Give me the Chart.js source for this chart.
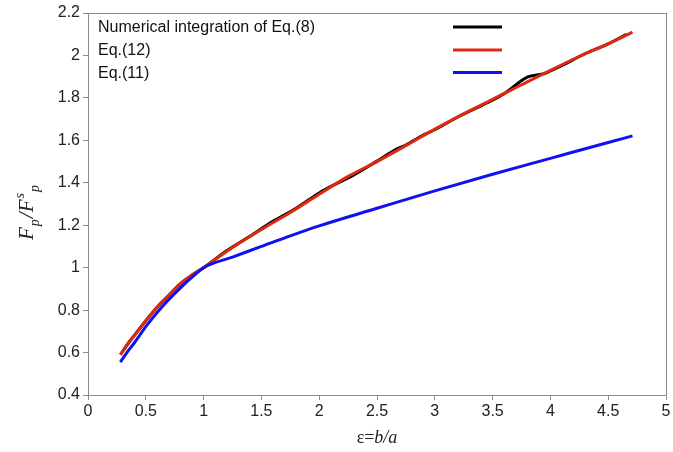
<!DOCTYPE html>
<html>
<head>
<meta charset="utf-8">
<script src="https://cdn.jsdelivr.net/npm/chart.js@4.4.1/dist/chart.umd.min.js"></script>
<style>
  html, body { margin: 0; padding: 0; background: #fff; }
  #wrap { width: 673px; height: 452px; }
</style>
</head>
<body>
<div id="wrap"><canvas id="FpChart" width="673" height="452"></canvas></div>
<script>
// values
var xTicks = [0, 0.5, 1, 1.5, 2, 2.5, 3, 3.5, 4, 4.5, 5];
var yTicks = [0.4, 0.6, 0.8, 1, 1.2, 1.4, 1.6, 1.8, 2, 2.2];

// Numerical integration of Eq.(8)
var epsNum = [0.28, 0.35, 0.4, 0.5, 0.6, 0.7, 0.8, 0.9, 1.0, 1.2, 1.4, 1.6, 1.8, 2.0, 2.05, 2.3, 2.5, 2.65, 2.75, 2.9, 3.0, 3.2, 3.45, 3.6, 3.8, 3.95, 4.1, 4.3, 4.5, 4.66];
var fpNum  = [0.59, 0.645, 0.68, 0.75, 0.815, 0.87, 0.925, 0.965, 1.0, 1.08, 1.148, 1.218, 1.28, 1.352, 1.368, 1.437, 1.502, 1.553, 1.578, 1.625, 1.65, 1.71, 1.776, 1.82, 1.898, 1.915, 1.953, 2.008, 2.055, 2.10];

// Eq.(12)
var epsEq12 = [0.28, 0.35, 0.4, 0.5, 0.6, 0.7, 0.8, 0.9, 1.0, 1.25, 1.5, 1.75, 2.0, 2.25, 2.5, 2.75, 3.0, 3.25, 3.5, 3.75, 4.0, 4.25, 4.5, 4.71];
var fpEq12  = [0.59, 0.645, 0.68, 0.75, 0.815, 0.87, 0.925, 0.965, 1.0, 1.095, 1.18, 1.26, 1.346, 1.43, 1.50, 1.575, 1.653, 1.725, 1.793, 1.862, 1.93, 1.995, 2.055, 2.11];

// Eq.(11)
var epsEq11 = [0.28, 0.35, 0.4, 0.5, 0.6, 0.7, 0.8, 0.9, 1.0, 1.25, 1.5, 1.75, 2.0, 2.5, 3.0, 3.5, 4.0, 4.5, 4.71];
var fpEq11  = [0.555, 0.61, 0.645, 0.722, 0.79, 0.85, 0.905, 0.955, 1.0, 1.05, 1.10, 1.15, 1.197, 1.28, 1.362, 1.44, 1.515, 1.59, 1.621];

var seriesLabels = ['Numerical integration of Eq.(8)', 'Eq.(12)', 'Eq.(11)'];
var seriesColors = ['#000000', '#dd2a10', '#1010f5'];

function pairs(xs, ys) {
	var out = [];
	for (var i = 0; i < xs.length; i++) { out.push({x: xs[i], y: ys[i]}); }
	return out;
}

var sansFont = '"Liberation Sans", Arial, sans-serif';
var serifFont = '"Liberation Serif", "DejaVu Serif", serif';

// plot frame, legend and axis titles
var extras = {
	id: 'extras',
	afterDraw: function (chart) {
		var ctx = chart.ctx, a = chart.chartArea;
		ctx.save();
		ctx.strokeStyle = '#8c8c8c';
		ctx.lineWidth = 1;
		ctx.strokeRect(Math.round(a.left) + 0.5, Math.round(a.top) + 0.5, Math.round(a.right - a.left), Math.round(a.bottom - a.top));

		// legend: text on the left, line samples on the right
		var rows = [27, 50, 72.5];
		ctx.font = '16px ' + sansFont;
		ctx.textBaseline = 'middle';
		ctx.textAlign = 'left';
		for (var i = 0; i < seriesLabels.length; i++) {
			ctx.fillStyle = '#111';
			ctx.fillText(seriesLabels[i], 98, rows[i] + 1);
			ctx.strokeStyle = seriesColors[i];
			ctx.lineWidth = 3;
			ctx.beginPath();
			ctx.moveTo(453, rows[i]);
			ctx.lineTo(502, rows[i]);
			ctx.stroke();
		}

		// x title: ε=b/a
		ctx.fillStyle = '#222';
		ctx.textBaseline = 'alphabetic';
		var xt1 = 'ε=', xt2 = 'b/a';
		ctx.font = '18px ' + serifFont;
		var w1 = ctx.measureText(xt1).width;
		ctx.font = 'italic 18px ' + serifFont;
		var w2 = ctx.measureText(xt2).width;
		var cx = (a.left + a.right) / 2, sx = cx - (w1 + w2) / 2;
		ctx.font = '18px ' + serifFont;
		ctx.fillText(xt1, sx, 443);
		ctx.font = 'italic 18px ' + serifFont;
		ctx.fillText(xt2, sx + w1, 443);

		// y title: F_p / F^s_p, rotated
		var parts = [
			{t: 'F', size: 21, dy: 0},
			{t: 'p', size: 14, dy: 6},
			{t: '/F', size: 21, dy: 0},
			{t: 's', size: 14, dy: -9},
			{t: 'p', size: 14, dy: 6}
		];
		var total = 0;
		parts.forEach(function (p) {
			ctx.font = 'italic ' + p.size + 'px ' + serifFont;
			p.w = ctx.measureText(p.t).width;
			total += p.w + 1;
		});
		ctx.translate(33, 212);
		ctx.rotate(-Math.PI / 2);
		var px = -total / 2;
		parts.forEach(function (p) {
			ctx.font = 'italic ' + p.size + 'px ' + serifFont;
			ctx.fillText(p.t, px, p.dy);
			px += p.w + 1;
		});
		ctx.restore();
	}
};

new Chart("FpChart", {
	type: 'line',
	data: {
		datasets: [{
			label: seriesLabels[0],
			data: pairs(epsNum, fpNum),
			borderColor: seriesColors[0],
			borderWidth: 3,
			pointRadius: 0,
			cubicInterpolationMode: 'monotone',
			fill: false,
			order: 2
		}, {
			label: seriesLabels[1],
			data: pairs(epsEq12, fpEq12),
			borderColor: seriesColors[1],
			borderWidth: 3,
			pointRadius: 0,
			cubicInterpolationMode: 'monotone',
			fill: false,
			order: 1
		}, {
			label: seriesLabels[2],
			data: pairs(epsEq11, fpEq11),
			borderColor: seriesColors[2],
			borderWidth: 3,
			pointRadius: 0,
			cubicInterpolationMode: 'monotone',
			fill: false,
			order: 0
		}]
	},
	options: {
		responsive: false,
		animation: false,
		events: [],
		layout: { padding: { left: 0, right: 7, top: 13, bottom: 0 } },
		plugins: {
			legend: { display: false },
			tooltip: { enabled: false }
		},
		scales: {
			x: {
				type: 'linear',
				min: 0, max: 5,
				afterBuildTicks: function (s) { s.ticks = xTicks.map(function (v) { return {value: v}; }); },
				afterFit: function (s) { s.height = 57; },
				ticks: {
					color: '#222',
					font: { family: sansFont, size: 16 },
					padding: 2,
					maxRotation: 0,
					callback: function (v) { return String(v); }
				},
				grid: { drawOnChartArea: false, drawTicks: true, tickLength: 5, color: '#8c8c8c' },
				border: { color: '#8c8c8c' }
			},
			y: {
				min: 0.4, max: 2.2,
				afterBuildTicks: function (s) { s.ticks = yTicks.map(function (v) { return {value: v}; }); },
				afterFit: function (s) { s.width = 88; },
				ticks: {
					color: '#222',
					font: { family: sansFont, size: 16 },
					padding: 3,
					callback: function (v) { return String(Math.round(v * 10) / 10); }
				},
				grid: { drawOnChartArea: false, drawTicks: true, tickLength: 5, color: '#8c8c8c' },
				border: { color: '#8c8c8c' }
			}
		}
	},
	plugins: [extras]
});
</script>
</body>
</html>
